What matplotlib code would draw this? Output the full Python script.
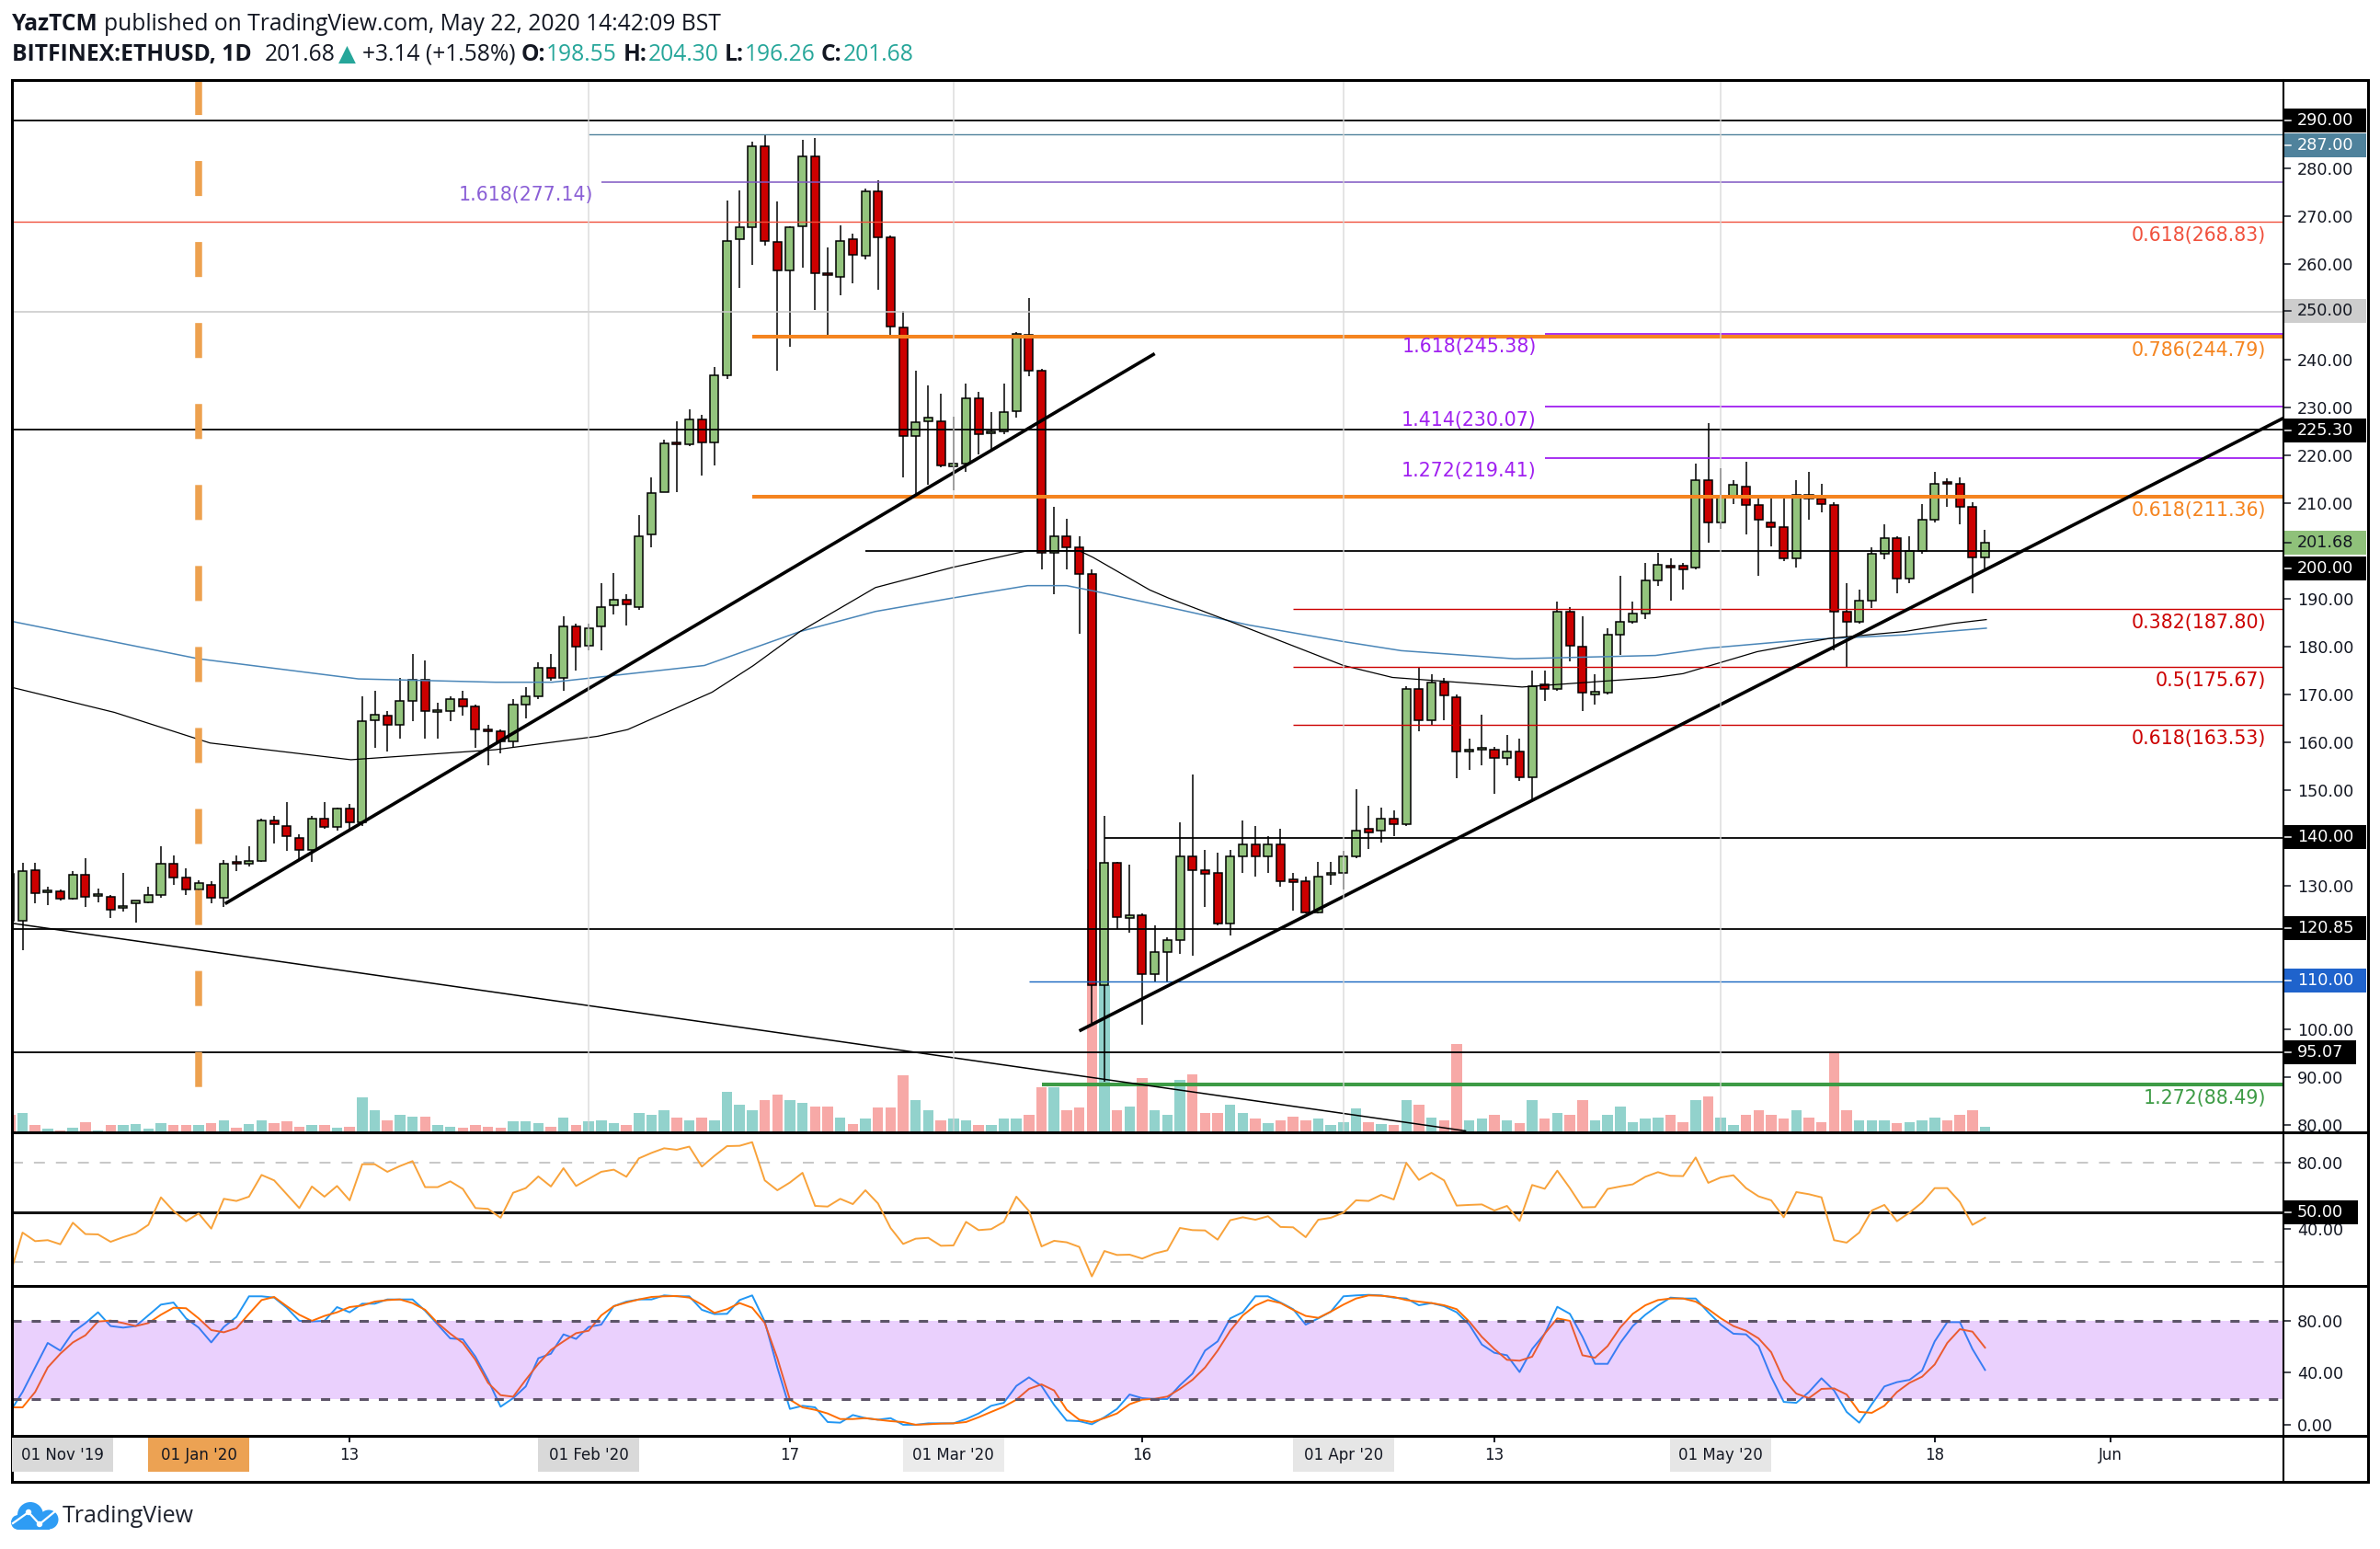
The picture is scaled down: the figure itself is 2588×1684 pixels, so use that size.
import matplotlib
matplotlib.use("Agg")
import matplotlib.pyplot as plt
import matplotlib.transforms as mtransforms
from matplotlib.patches import Rectangle, Circle
import numpy as np
import pandas as pd

plt.rcParams["lines.scale_dashes"] = False
plt.rcParams["font.family"] = ["DejaVu Sans"]

# ============================================================
# DATA
# ============================================================
dates = pd.date_range("2019-12-17", "2020-05-22", freq="D")

open_ = [132.5, 122.7, 133.3, 128.6, 128.7, 127.3, 132.3, 127.9, 127.7, 125.4,
         126.2, 126.5, 128.1, 134.5, 131.6, 129.1, 130.2, 127.4, 134.9, 134.5,
         135.2, 143.6, 142.5, 139.9, 137.5, 143.9, 142.2, 146.0, 143.2, 164.6,
         165.5, 163.6, 168.6, 173.1, 166.3, 166.5, 168.9, 167.5, 162.7, 162.2,
         160.1, 167.9, 169.6, 175.6, 173.5, 184.1, 180.2, 184.1, 188.6, 189.7,
         188.3, 203.5, 212.3, 222.6, 222.2, 227.5, 222.6, 236.6, 265.2, 267.6,
         284.5, 264.5, 258.6, 267.9, 282.4, 258.0, 257.2, 265.1, 261.7, 275.1,
         265.5, 246.6, 223.9, 227.1, 227.1, 217.7, 218.2, 231.8, 224.6, 225.0,
         229.2, 245.2, 237.7, 199.6, 203.1, 200.7, 195.1, 109.1, 134.7, 123.2,
         123.7, 111.5, 116.1, 118.5, 136.1, 133.3, 132.6, 122.0, 136.1, 138.5,
         136.1, 138.5, 131.2, 130.9, 124.4, 132.2, 132.6, 136.1, 141.8, 141.4,
         143.9, 142.8, 171.1, 164.6, 172.5, 169.3, 158.0, 158.4, 158.4, 156.6,
         158.0, 152.6, 172.1, 171.1, 187.3, 179.9, 170.0, 170.3, 182.4, 185.2,
         186.9, 193.7, 196.8, 196.8, 196.4, 214.8, 205.9, 211.2, 213.4, 209.5,
         206.0, 205.0, 198.5, 211.6, 210.9, 209.5, 187.2, 185.2, 189.5, 199.3,
         202.7, 194.2, 199.9, 206.4, 214.4, 214.0, 209.2, 198.55]
high = [133.5, 134.7, 134.7, 129.8, 129.2, 133.0, 135.7, 129.3, 128.0, 132.6,
        126.9, 129.8, 138.3, 136.2, 133.6, 131.1, 130.9, 135.4, 136.2, 138.3,
        143.9, 144.6, 147.4, 140.8, 144.6, 147.4, 146.3, 147.1, 169.6, 170.7,
        166.5, 173.5, 178.4, 177.0, 168.3, 169.6, 170.7, 167.9, 163.6, 162.6,
        168.9, 171.4, 176.6, 178.4, 186.2, 184.8, 184.8, 193.3, 195.4, 191.0,
        207.4, 215.4, 223.3, 227.1, 229.5, 228.5, 238.4, 273.2, 275.3, 285.6,
        286.8, 273.0, 267.9, 285.9, 286.3, 263.4, 268.0, 266.2, 275.8, 277.5,
        265.9, 250.1, 237.7, 234.6, 232.8, 228.1, 234.9, 233.2, 229.0, 234.9,
        245.7, 252.8, 238.0, 209.2, 206.7, 203.1, 196.1, 144.6, 135.0, 134.3,
        124.1, 121.6, 119.2, 143.2, 153.3, 137.5, 136.8, 137.5, 143.5, 142.5,
        140.4, 141.8, 132.6, 131.9, 135.0, 135.0, 137.3, 150.2, 146.7, 146.3,
        145.7, 171.7, 175.6, 174.2, 173.4, 170.0, 160.8, 165.8, 159.0, 161.5,
        160.8, 174.9, 174.9, 189.4, 188.3, 186.2, 174.2, 183.8, 194.7, 189.4,
        197.5, 199.6, 198.5, 197.5, 218.2, 226.7, 217.2, 214.8, 218.6, 211.2,
        211.6, 210.9, 214.8, 216.5, 214.0, 210.2, 193.3, 191.9, 200.7, 205.5,
        203.1, 203.1, 209.8, 216.5, 215.1, 215.4, 210.2, 204.30]
low = [121.5, 116.4, 126.3, 125.9, 126.9, 127.0, 125.5, 126.5, 123.2, 124.6,
       122.3, 126.2, 127.5, 130.2, 128.0, 128.4, 126.3, 125.6, 133.0, 134.0,
       135.0, 138.7, 137.3, 135.4, 135.0, 141.8, 141.4, 141.8, 142.5, 158.7,
       158.0, 160.8, 164.4, 160.8, 160.8, 164.4, 165.5, 158.7, 155.2, 157.6,
       159.0, 165.0, 168.9, 172.8, 170.7, 174.9, 179.2, 179.2, 186.6, 184.4,
       187.6, 200.7, 212.3, 212.3, 221.9, 215.8, 217.9, 236.0, 254.9, 259.8,
       263.8, 237.7, 242.6, 259.1, 250.4, 245.0, 253.5, 256.0, 260.9, 254.6,
       245.0, 215.4, 210.9, 213.7, 217.5, 212.6, 216.5, 220.1, 220.8, 224.3,
       227.8, 236.5, 196.1, 190.9, 196.1, 182.7, 101.2, 88.9, 120.9, 120.2,
       100.9, 110.0, 110.0, 115.7, 115.3, 125.5, 121.6, 119.5, 132.6, 131.9,
       132.6, 129.8, 124.8, 124.1, 124.1, 130.2, 129.1, 135.7, 137.6, 139.0,
       140.4, 142.5, 162.2, 163.6, 164.6, 152.4, 154.2, 155.2, 149.2, 155.2,
       151.9, 148.1, 168.6, 170.7, 176.8, 166.5, 167.9, 170.0, 178.2, 184.8,
       185.8, 192.6, 189.5, 191.9, 196.1, 201.7, 204.5, 209.8, 203.5, 194.7,
       201.0, 197.8, 196.5, 206.4, 208.1, 179.2, 175.6, 184.8, 188.0, 198.2,
       191.1, 193.3, 199.3, 206.0, 209.2, 205.5, 191.1, 196.26]
close = [122.7, 133.0, 128.4, 128.8, 127.3, 132.3, 127.7, 128.1, 124.9, 125.8,
         126.8, 128.1, 134.5, 131.6, 129.1, 130.5, 127.4, 134.5, 134.6, 135.2,
         143.6, 142.9, 140.4, 137.5, 143.9, 142.2, 146.0, 143.2, 164.4, 165.8,
         163.6, 168.6, 173.1, 166.5, 166.7, 168.9, 167.5, 162.7, 162.3, 160.1,
         167.9, 169.6, 175.6, 173.5, 184.1, 179.9, 183.7, 188.3, 189.7, 188.7,
         203.1, 212.0, 222.5, 222.3, 227.5, 222.6, 236.6, 264.8, 267.6, 284.5,
         264.8, 258.6, 267.6, 282.4, 258.1, 257.7, 264.8, 261.9, 275.1, 265.6,
         246.9, 223.9, 226.8, 227.8, 217.9, 218.2, 231.8, 224.3, 225.0, 228.9,
         245.4, 237.7, 199.6, 203.1, 200.7, 195.1, 109.1, 134.7, 123.4, 123.7,
         111.5, 116.1, 118.5, 136.1, 133.3, 132.5, 122.0, 136.1, 138.5, 136.1,
         138.5, 130.9, 130.8, 124.4, 131.9, 132.6, 136.1, 141.4, 141.1, 143.9,
         142.8, 171.1, 164.6, 172.5, 169.7, 158.0, 158.4, 158.7, 156.6, 158.0,
         152.6, 171.7, 171.1, 187.3, 180.1, 170.3, 170.6, 182.4, 185.2, 186.9,
         193.7, 197.1, 196.4, 196.1, 214.8, 205.9, 211.2, 213.7, 209.5, 206.4,
         205.0, 198.5, 211.6, 210.9, 209.8, 187.2, 185.2, 189.5, 199.3, 202.7,
         194.2, 199.9, 206.4, 214.0, 214.0, 209.2, 198.55, 201.68]

# volume, in bar-height units
volume = [25, 28, 10, 5, 2, 6, 15, 3, 10, 10, 12, 5, 13, 10, 10, 10, 13, 18, 7, 12,
          17, 14, 16, 8, 10, 10, 7, 8, 52, 33, 18, 26, 23, 23, 10, 8, 6, 11, 8, 6,
          16, 16, 13, 8, 21, 10, 16,
          18, 13, 10, 28, 25, 32, 22, 17, 22, 17, 60, 40, 32, 47, 55, 48, 43, 38, 38, 22,
          12, 20, 37, 37, 84, 47, 32, 17, 20, 17, 10, 10, 20, 20, 25, 67, 67, 32, 37, 390,
          218, 33, 38, 80,
          32, 25, 78, 85, 28, 28, 40, 28, 20, 13, 18, 23, 18, 20, 10, 15, 35, 15, 12, 10,
          48, 40, 22, 17, 130, 17, 20, 25, 17, 14, 47, 20, 28, 25, 48, 17, 25, 38, 15, 20,
          22, 25, 15, 47, 53, 22, 10, 25, 32, 25, 20, 32, 22, 15, 117, 33, 17, 17, 17, 13,
          15, 18, 22, 17, 25, 33, 8]

rsi = [12.0, 37.7, 32.5, 33.1, 30.6, 43.7, 36.8, 36.6, 32.1, 34.9, 37.3, 42.4, 59.1, 50.8,
       44.6, 49.3, 40.1, 58.2, 56.9, 59.5, 72.7, 69.4, 61.0, 52.6, 65.7, 59.5, 66.0, 57.3,
       79.2, 79.2, 74.6, 78.1, 81.1, 65.3, 65.3, 68.8, 64.2, 52.6, 52.1, 46.7, 61.9, 64.7,
       71.8, 65.7, 76.8, 66.0, 70.3, 74.6, 75.9, 71.6, 82.8, 86.1, 88.9, 88.0, 89.9, 77.8,
       84.3, 90.2, 90.4, 92.6, 69.4, 63.4, 68.1, 74.0, 53.9, 53.5, 58.2, 55.0, 63.4, 55.4,
       40.5, 30.8, 34.0, 34.5, 29.7, 29.9, 44.2, 39.2, 39.8, 44.2, 59.5, 50.8, 29.3, 32.7,
       31.8, 29.0, 11.1, 26.5, 24.1, 24.3, 21.9, 25.0, 26.9, 40.5, 39.2,
       39.0, 33.4, 45.2, 47.0, 45.5, 47.6, 41.1, 40.9, 34.9, 45.5, 46.7, 49.8, 57.3, 56.9,
       60.6, 57.8, 80.0, 69.7, 74.0, 69.4, 54.1, 54.5, 54.8, 51.1, 53.9, 44.8, 66.6, 64.3,
       75.3, 64.7, 53.0, 53.2, 64.2, 65.7, 67.0, 71.6, 74.4, 72.2, 72.0, 83.3, 67.9, 71.2,
       72.5, 64.7, 59.7, 57.3, 47.0, 62.3, 61.0, 59.1, 33.1, 31.6, 37.7, 51.1, 54.5, 44.6,
       49.8, 56.0, 64.7, 64.7, 56.3, 42.4, 46.7]

stoch_k = [9.9, 25.2, 44.1, 63.0, 57.1, 71.2, 78.3, 86.6, 76.0, 74.8, 76.0, 84.2, 92.5, 94.1,
           81.9, 74.8, 63.4, 75.3, 83.0, 98.9, 98.9, 97.9, 90.1, 80.0, 79.5, 80.0, 90.6, 86.6,
           93.2, 93.2, 96.5, 96.5, 96.5, 87.8, 77.1, 66.5, 65.8, 52.4, 34.6, 13.9, 20.5, 29.5,
           51.2, 54.7, 69.6, 66.1, 75.3, 77.1, 91.3, 94.8, 96.5, 96.5, 99.6, 98.9, 98.9, 88.5,
           85.2, 85.4, 96.0, 99.6, 79.5, 44.1, 12.2, 14.6, 13.4, 2.1, 1.6, 7.5, 5.1, 3.9,
           5.1, 0.0, 0.0, 1.1, 1.1, 1.1, 4.4, 8.7, 14.6, 16.9, 29.9, 36.5, 29.9, 15.3,
           3.2, 2.8, 0.4, 5.8, 12.2, 23.3, 20.5, 19.8, 19.8, 30.4, 39.4,
           57.1, 64.2, 81.9, 86.6, 98.9, 98.9, 94.1, 89.0, 77.1, 81.9, 87.1, 98.9, 99.6, 100.0,
           99.6, 97.9, 97.2, 92.0, 93.7, 91.3, 86.6, 77.1, 61.8, 55.4, 53.5, 40.6, 58.3, 70.1,
           90.8, 85.4, 67.7, 46.9, 46.9, 63.0, 76.0, 84.7, 91.8, 97.9, 97.2, 97.2, 86.6, 77.1,
           70.1, 69.6, 60.6, 37.0, 17.6, 16.9, 25.2, 35.8, 26.4, 9.9, 1.6, 15.8, 29.5, 32.8,
           34.6, 41.7, 64.2, 79.0, 79.0, 58.3, 42.2]
stoch_d = [13.4, 13.4, 25.2, 44.1, 54.7, 63.4, 68.9, 79.5, 80.2, 78.3, 76.0, 78.3, 84.7, 90.1,
           89.7, 81.9, 72.9, 71.2, 74.3, 85.4, 96.0, 98.4, 91.3, 84.7, 80.0, 83.8, 86.6, 90.6,
           91.8, 94.8, 96.0, 96.5, 93.7, 88.5, 78.3, 70.1, 63.0, 50.0, 32.3, 22.8, 21.6, 34.6,
           46.9, 57.6, 64.2, 70.5, 72.4, 84.2, 91.3, 94.1, 96.5, 98.4, 98.9, 99.1, 97.9, 92.5,
           86.1, 89.0, 93.7, 90.1, 78.3, 51.2, 19.3, 13.4, 11.5, 8.7, 4.4, 4.4, 5.1, 3.9,
           2.8, 2.1, 0.0, 0.4, 0.9, 1.1, 2.1, 5.8, 9.9, 13.9, 19.3, 27.6, 31.1, 26.4,
           11.5, 3.9, 2.1, 5.1, 8.7, 15.8, 19.3, 20.0, 21.7, 27.6, 34.6,
           44.1, 57.1, 72.4, 84.2, 91.8, 96.0, 93.7, 88.5, 83.8, 82.3, 87.1, 92.5, 97.2, 99.6,
           99.3, 98.4, 96.0, 94.8, 93.7, 92.0, 89.0, 79.5, 67.7, 58.3, 50.0, 49.3, 52.4, 70.1,
           81.9, 80.0, 53.5, 51.6, 60.6, 74.8, 85.4, 92.0, 96.0, 97.2, 97.2, 94.8, 89.0, 81.9,
           76.0, 72.4, 66.5, 55.9, 34.6, 24.0, 20.5, 27.6, 28.0, 23.3, 9.9, 9.2, 14.6, 25.2,
           32.3, 37.0, 46.4, 63.0, 73.6, 71.7, 59.4]

# moving averages, sampled points (day offset from 1 Jan 2020, price)
ma_blue_day = [-14.8, 0.0, 12.7, 23.6, 28.1, 40.2, 47.8, 53.8, 59.9, 65.9, 69.0, 71.3,
               77.4, 83.4, 91.0, 95.6, 104.6, 115.8, 119.9, 127.8, 135.6, 142.1]
ma_blue_val = [185.2, 177.4, 173.2, 172.5, 172.5, 176.0, 183.1, 187.3, 190.1, 192.7, 192.7, 191.5,
               188.0, 184.5, 181.0, 179.1, 177.4, 178.1, 179.6, 181.4, 182.4, 183.8]
ma_black_day = [-14.8, -6.7, 0.9, 12.1, 23.6, 31.7, 34.1, 40.8, 44.1, 47.8, 53.8, 59.9, 65.9,
                70.0, 71.1, 75.6, 77.1, 83.4, 91.0, 94.9, 105.2, 115.8, 118.0, 123.9, 129.7,
                135.6, 139.5, 142.1]
ma_black_val = [171.4, 166.2, 159.8, 156.3, 158.4, 161.2, 162.6, 170.4, 176.0, 183.1, 192.3, 196.5,
                200.0, 200.0, 198.6, 191.8, 190.1, 183.8, 176.0, 173.5, 171.5, 173.5, 174.3, 178.9,
                181.7, 183.1, 184.8, 185.6]

# trend lines (day, price) end points
trend_up1_day = [2.1, 76.0]
trend_up1_val = [126.2, 241.2]
trend_up2_day = [70.0, 165.7]
trend_up2_val = [99.6, 227.7]
trend_down_day = [-14.8, 100.7]
trend_down_val = [122.1, 78.7]

# horizontal levels
level_price = [290.00, 287.00, 277.14, 268.83, 250.00, 245.38, 244.79, 230.07, 225.30, 219.41,
               211.36, 200.00, 187.80, 175.67, 163.53, 140.00, 120.85, 110.00, 95.07, 88.49]
level_from_day = [None, 31.0, 32.0, None, None, 107.0, 44.0, 107.0, None, 107.0,
                  44.0, 53.0, 87.0, 87.0, 87.0, 72.0, None, 66.0, None, 67.0]

fib_right_text = ["0.618(268.83)", "0.786(244.79)", "0.618(211.36)", "0.382(187.80)",
                  "0.5(175.67)", "0.618(163.53)", "1.272(88.49)"]
fib_right_price = [268.83, 244.79, 211.36, 187.80, 175.67, 163.53, 88.49]
fib_left_text = ["1.618(277.14)", "1.618(245.38)", "1.414(230.07)", "1.272(219.41)"]
fib_left_price = [277.14, 245.38, 230.07, 219.41]
fib_left_day = [32.0, 107.0, 107.0, 107.0]

price_ticks = [280, 270, 260, 240, 230, 220, 210, 190, 180, 170, 160, 150, 130, 100, 90, 80]
price_boxes = [(290.00, "290.00"), (284.75, "287.00"), (250.05, "250.00"), (225.2, "225.30"),
               (201.68, "201.68"), (196.3, "200.00"), (140.2, "140.00"), (121.0, "120.85"),
               (110.1, "110.00"), (95.2, "95.07")]

time_label_text = ["01 Nov '19", "01 Jan '20", "13", "01 Feb '20", "17", "01 Mar '20", "16",
                   "01 Apr '20", "13", "01 May '20", "18", "Jun"]
time_label_day = [-10.8, 0, 12, 31, 47, 60, 75, 91, 103, 121, 138, 152]
month_days = [31, 60, 91, 121]

# ============================================================
# LAYOUT
# ============================================================
W, H = 2588, 1684
fig = plt.figure(figsize=(W / 100, H / 100), dpi=100, facecolor="white")


def frac_rect(x0, y0, x1, y1):
    return [x0 / W, 1 - y1 / H, (x1 - x0) / W, (y1 - y0) / H]


XL, XR = 13.3, 2482.7
XMIN, XMAX = -14.82, 165.7
ax_vol = fig.add_axes(frac_rect(XL, 87.3, XR, 1230.8), zorder=1)
ax = fig.add_axes(frac_rect(XL, 87.3, XR, 1230.8), zorder=2)
ax_rsi = fig.add_axes(frac_rect(XL, 1230.8, XR, 1397.7), zorder=2)
ax_st = fig.add_axes(frac_rect(XL, 1397.7, XR, 1560.7), zorder=2)
ax_px = fig.add_axes([0, 0, 1, 1], zorder=5)
ax_px.set_xlim(0, W)
ax_px.set_ylim(H, 0)
ax_px.axis("off")
ax_px.patch.set_visible(False)

for a in (ax_vol, ax, ax_rsi, ax_st):
    a.set_xlim(XMIN, XMAX)
    for s in a.spines.values():
        s.set_visible(False)
    a.patch.set_visible(False)
ax_vol.axis("off")
ax.set_ylim(78.44, 298.35)
ax_vol.set_ylim(0, 1559)
ax_rsi.set_ylim(5.47, 98.7)
ax_st.set_ylim(-8.33, 107.1)

x = np.asarray((dates - pd.Timestamp("2020-01-01")).days, dtype=float)
o, hi, lo, c = map(np.asarray, (open_, high, low, close))
up = c >= o

# ---- volume ----
ax_vol.bar(x, volume, width=0.84, color=np.where(up, "#92d2cc", "#f7a9a7"), linewidth=0)

# ---- candles ----
ax.vlines(x, lo, hi, color="black", lw=1.1, zorder=3)
ax.bar(x, np.maximum(np.abs(c - o), 0.35), bottom=np.minimum(o, c), width=0.66,
       color=np.where(up, "#93c47d", "#cc0000"), edgecolor="black", linewidth=1.1, zorder=4)

# ---- moving averages ----
ax.plot(ma_blue_day, ma_blue_val, color="#4a86b8", lw=1.1, zorder=5)
ax.plot(ma_black_day, ma_black_val, color="black", lw=0.9, zorder=5)

# ---- horizontal levels ----
level_style = {
    290.00: ("black", 1.3), 287.00: ("#4f829c", 1.0), 277.14: ("#7e57c2", 1.1),
    268.83: ("#f0503c", 1.0), 250.00: ("#c8c8c8", 1.1), 245.38: ("#a020f0", 1.3),
    244.79: ("#f5841f", 2.9), 230.07: ("#a020f0", 1.3), 225.30: ("black", 1.3),
    219.41: ("#a020f0", 1.3), 211.36: ("#f5841f", 2.9), 200.00: ("black", 1.3),
    187.80: ("#cc0000", 1.0), 175.67: ("#cc0000", 1.0), 163.53: ("#cc0000", 1.0),
    140.00: ("black", 1.3), 120.85: ("black", 1.3), 110.00: ("#1565c0", 1.0),
    95.07: ("black", 1.3), 88.49: ("#3d9b45", 2.9),
}
for p, start in zip(level_price, level_from_day):
    col, lw = level_style[p]
    ax.hlines(p, XMIN if start is None else start, XMAX, color=col, lw=lw, zorder=6)

# ---- trend lines ----
ax.plot(trend_up1_day, trend_up1_val, color="black", lw=2.6, zorder=7, solid_capstyle="butt")
ax.plot(trend_up2_day, trend_up2_val, color="black", lw=2.6, zorder=7, solid_capstyle="butt")
ax.plot(trend_down_day, trend_down_val, color="black", lw=1.1, zorder=7)

# ---- 1 Jan marker and month lines ----
ax.plot([0, 0], [298.35, 78.44], color="#eda14f", lw=5.4, dashes=(27.4, 36),
        dash_capstyle="butt", zorder=7)
for d in month_days:
    ax.axvline(d, color="#d6d6d6", lw=1.1, alpha=0.85, zorder=8)

# ---- fib labels ----
right_col = {268.83: "#f0503c", 244.79: "#f5841f", 211.36: "#f5841f", 187.80: "#cc0000",
             175.67: "#cc0000", 163.53: "#cc0000", 88.49: "#3d9b45"}
for t, p in zip(fib_right_text, fib_right_price):
    ax.annotate(t, xy=(1, p), xycoords=("axes fraction", "data"), xytext=(-13.4, -10.8),
                textcoords="offset points", ha="right", va="center", fontsize=14.8,
                color=right_col[p], zorder=9)
left_col = {277.14: "#8a5fd6", 245.38: "#a020f0", 230.07: "#a020f0", 219.41: "#a020f0"}
for t, p, d in zip(fib_left_text, fib_left_price, fib_left_day):
    ax.annotate(t, xy=(d, p), xytext=(-6.5, -10.6), textcoords="offset points",
                ha="right", va="center", fontsize=14.8, color=left_col[p], zorder=9)

# ---- RSI ----
ax_rsi.plot(x, rsi, color="#f8a23a", lw=1.4, zorder=3)
ax_rsi.axhline(80, color="#c8c8c8", lw=1.44, dashes=(8.6, 8.6), zorder=2)
ax_rsi.axhline(20, color="#c8c8c8", lw=1.44, dashes=(8.6, 8.6), zorder=2)
ax_rsi.axhline(50, color="#141414", lw=2.2, zorder=2)

# ---- Stoch RSI ----
ax_st.plot(x, stoch_k, color="#2196f3", lw=1.4, zorder=3)
ax_st.plot(x, stoch_d, color="#ff6d00", lw=1.4, zorder=3)
ax_st.axhspan(20, 80, facecolor="#9614f5", alpha=0.2, lw=0, zorder=4)
ax_st.axhline(80, color="#5d5468", lw=2.2, dashes=(7.2, 7.9), zorder=5)
ax_st.axhline(20, color="#5d5468", lw=2.2, dashes=(7.2, 7.9), zorder=5)

# ---- right scales ----
LBL = 12.7
for a, ticks in ((ax, price_ticks), (ax_rsi, [80, 40]), (ax_st, [80, 40, 0])):
    a.yaxis.tick_right()
    a.set_yticks(ticks)
    a.set_yticklabels([f"{v:.2f}" for v in ticks])
    a.tick_params(axis="y", direction="out", length=5.8, width=1.1, pad=5,
                  labelsize=LBL, labelcolor="#131722", color="#131722")
    a.tick_params(axis="x", bottom=False, labelbottom=False)
ax_st.set_xticks(time_label_day[1:])
ax_st.tick_params(axis="x", bottom=True, direction="out", length=5, width=1.4,
                  color="#131722", labelbottom=False)


def side_box(a, yval, text, bg, fg, x1=2571):
    tr = mtransforms.blended_transform_factory(fig.transFigure, a.transData)
    yd = a.transData.transform((0, yval))[1]
    inv = a.transData.inverted()
    y_lo = inv.transform((0, yd - 13))[1]
    y_hi = inv.transform((0, yd + 13))[1]
    a.add_patch(Rectangle((2483 / W, y_lo), (x1 - 2483) / W, y_hi - y_lo, transform=tr,
                          facecolor=bg, edgecolor="none", clip_on=False, zorder=20))
    a.plot([2483 / W, 2491 / W], [yval, yval], transform=tr, color=fg, lw=1.1,
           clip_on=False, zorder=21)
    a.text(2498 / W, yval, text, transform=tr, fontsize=LBL, color=fg, va="center",
           ha="left", clip_on=False, zorder=22)


box_colors = {"290.00": ("black", "white"), "287.00": ("#4f829c", "white"),
              "250.00": ("#cdcdcd", "#131722"), "225.30": ("black", "white"),
              "201.68": ("#8fc17a", "#131722"), "200.00": ("black", "white"),
              "140.00": ("black", "white"), "120.85": ("black", "white"),
              "110.00": ("#1f63cc", "white"), "95.07": ("black", "white")}
for yv, t in price_boxes:
    bg, fg = box_colors[t]
    side_box(ax, yv, t, bg, fg, x1=2562 if t == "95.07" else 2573)
side_box(ax_rsi, 50, "50.00", "black", "white", x1=2564)

# ---- frame ----
ax_px.add_patch(Rectangle((13.3, 87.3), 2575 - 13.3, 1611 - 87.3, fill=False,
                          edgecolor="black", lw=2.2))
for yy in (1230.8, 1397.7, 1560.7):
    ax_px.plot([13.3, 2575], [yy, yy], color="black", lw=2.2)
ax_px.plot([2482.7, 2482.7], [87.3, 1611], color="black", lw=1.5)

# ---- time axis labels ----
box_fill = {"01 Nov '19": "#d9d9d9", "01 Jan '20": "#eca253", "01 Feb '20": "#d9d9d9",
            "01 Mar '20": "#ebebeb", "01 Apr '20": "#e6e6e6", "01 May '20": "#e6e6e6"}
for t, d in zip(time_label_text, time_label_day):
    xp = ax_st.transData.transform((d, 0))[0]
    if t in box_fill:
        ax_px.add_patch(Rectangle((xp - 55, 1563), 110, 37, facecolor=box_fill[t],
                                  edgecolor="none", zorder=1))
    ax_px.text(xp, 1582, t, fontsize=12, color="#131722", ha="center", va="center", zorder=3)

# ---- header ----
renderer = fig.canvas.get_renderer()
HF = ["Open Sans", "DejaVu Sans"]
dark, teal = "#131722", "#26a69a"


def write_line(x0, y0, segs, size=17.7):
    xx = x0
    for txt, weight, col, gap in segs:
        t = ax_px.text(xx, y0, txt, fontsize=size, fontweight=weight, color=col,
                       family=HF, ha="left", va="baseline")
        xx += t.get_window_extent(renderer=renderer).width + gap


sp = 6.4
write_line(13, 33, [("YazTCM", "bold", dark, sp),
                    ("published on TradingView.com, May 22, 2020 14:42:09 BST", "normal", dark, 0)])
write_line(13, 66, [("BITFINEX:ETHUSD, 1D", "bold", dark, 2.2 * sp),
                    ("201.68", "normal", dark, sp * 0.6),
                    ("\u25b2", "normal", teal, sp),
                    ("+3.14 (+1.58%)", "normal", dark, sp),
                    ("O:", "bold", dark, 1), ("198.55", "normal", teal, sp),
                    ("H:", "bold", dark, 1), ("204.30", "normal", teal, sp),
                    ("L:", "bold", dark, 1), ("196.26", "normal", teal, sp),
                    ("C:", "bold", dark, 1), ("201.68", "normal", teal, 0)])

# ---- footer logo ----
logo = "#2e9cf4"
for cx, cy, rr in ((33, 1647, 14), (53, 1652, 10.5), (20, 1655, 8)):
    ax_px.add_patch(Circle((cx, cy), rr, color=logo, lw=0))
ax_px.add_patch(Rectangle((20, 1650), 34, 13, color=logo, lw=0))
ax_px.plot([14, 31, 43, 60], [1656, 1644, 1657, 1643], color="white", lw=1.6)
for cx, cy in ((31, 1644), (43, 1657)):
    ax_px.add_patch(Circle((cx, cy), 3.2, color="white", lw=0))
ax_px.text(68, 1655, "TradingView", fontsize=18, color="#1e222d", family=HF,
           ha="left", va="baseline")

fig.savefig("out.png", dpi=100, facecolor="white")
